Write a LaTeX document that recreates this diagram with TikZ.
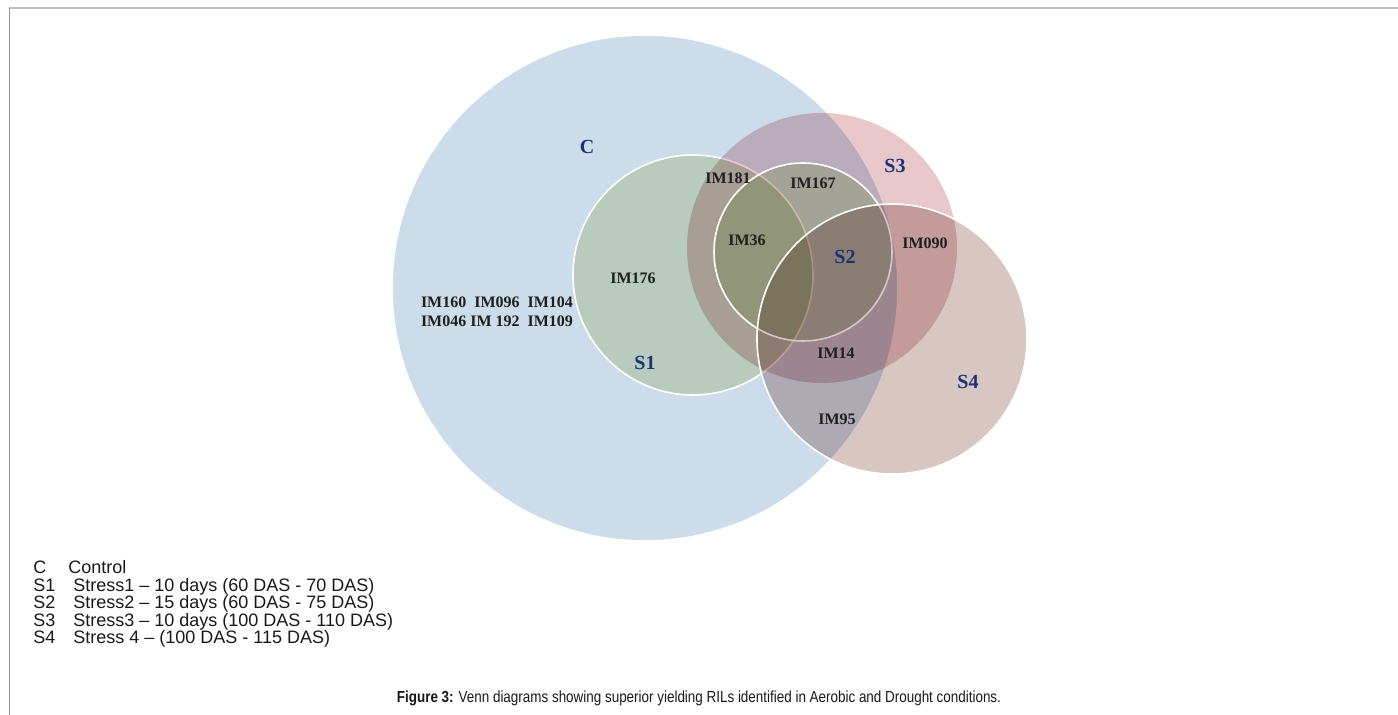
\documentclass[tikz,border=0pt]{standalone}
\usepackage{fontspec}
\setmainfont{Liberation Serif}
\setsansfont{Liberation Sans}
\usepackage{graphicx}
\usepackage{tikz}
\usetikzlibrary{positioning}
\definecolor{setC}{RGB}{205,220,235}
\definecolor{setSone}{RGB}{230,236,204}
\definecolor{setStwo}{RGB}{224,242,208}
\definecolor{setSthree}{RGB}{232,200,203}
\definecolor{setSfour}{RGB}{216,198,195}
\definecolor{setname}{RGB}{25,50,120}
\definecolor{frametop}{RGB}{190,190,190}
\definecolor{frameleft}{RGB}{150,150,150}

\begin{document}
\begin{tikzpicture}[x=0.5pt,y=-0.5pt,
                    set/.style={draw=white,line width=0.8pt},
                    set name/.style={font=\fontsize{10}{12}\selectfont\bfseries,text=setname,inner sep=0pt},
                    ril/.style={font=\fontsize{8}{9.5}\selectfont\bfseries,text=black!88,inner sep=0pt,align=center},
                    key/.style={font=\sffamily\fontsize{9}{11}\selectfont,text=black!90,anchor=base west,inner sep=0pt}]
    \useasboundingbox (0,0) rectangle (1398,715);
    \draw[frametop,line width=1pt] (9,8) -- (1398,8);
    \draw[frameleft,line width=0.5pt] (9,8) -- (9,715);

    \draw[set,fill=setC] (645,288) circle[radius=126.5pt];
    \begin{scope}[blend mode=multiply]
        \fill[setSone] (693,275) circle[radius=60pt];
    \end{scope}
    \draw[set] (693,275) circle[radius=60pt];
    \begin{scope}[blend mode=multiply]
        \fill[setSthree] (822,248) circle[radius=67.5pt];
        \fill[setStwo] (803,252) circle[radius=44.5pt];
    \end{scope}
    \draw[set] (803,252) circle[radius=44.5pt];
    \begin{scope}[blend mode=multiply]
        \fill[setSfour] (892,339) circle[radius=67.5pt];
    \end{scope}
    \draw[set] (892,339) circle[radius=67.5pt];

    \node[set name] (C) at (587,147) {C};
    \node[set name] (S1) at (645,363) {S1};
    \node[set name] (S2) at (845,257) {S2};
    \node[set name] (S3) at (895,166) {S3};
    \node[set name] (S4) at (968,382) {S4};

    \node[ril] (onlyC) at (497,312) {IM160\ \ IM096\ \ IM104\\IM046 IM 192\ \ IM109};
    \node[ril] (IM176) at (633,278) {IM176};
    \node[ril] (IM181) at (728,178) {IM181};
    \node[ril] (IM167) at (813,183) {IM167};
    \node[ril] (IM36) at (747,240) {IM36};
    \node[ril] (IM090) at (925,243) {IM090};
    \node[ril] (IM14) at (836,353) {IM14};
    \node[ril] (IM95) at (837,419) {IM95};

    \node[key] (keyC) at (33,574) {C};
    \node[key] (keyCtext) at (68,574) {Control};
    \node[key] (keyS1) at (33,592) {S1};
    \node[key] (keyS1text) at (73,592) {Stress1 -- 10 days (60 DAS - 70 DAS)};
    \node[key] (keyS2) at (33,609) {S2};
    \node[key] (keyS2text) at (73,609) {Stress2 -- 15 days (60 DAS - 75 DAS)};
    \node[key] (keyS3) at (33,627) {S3};
    \node[key] (keyS3text) at (73,627) {Stress3 -- 10 days (100 DAS - 110 DAS)};
    \node[key] (keyS4) at (33,644) {S4};
    \node[key] (keyS4text) at (73,644) {Stress 4 -- (100 DAS - 115 DAS)};

    \node[font=\sffamily\fontsize{8}{10}\selectfont,text=black!90,inner sep=0pt] (caption) at (699,698)
        {\scalebox{0.84}[1]{\textbf{Figure 3:} Venn diagrams showing superior yielding RILs identified in Aerobic and Drought conditions.}};
\end{tikzpicture}
\end{document}
